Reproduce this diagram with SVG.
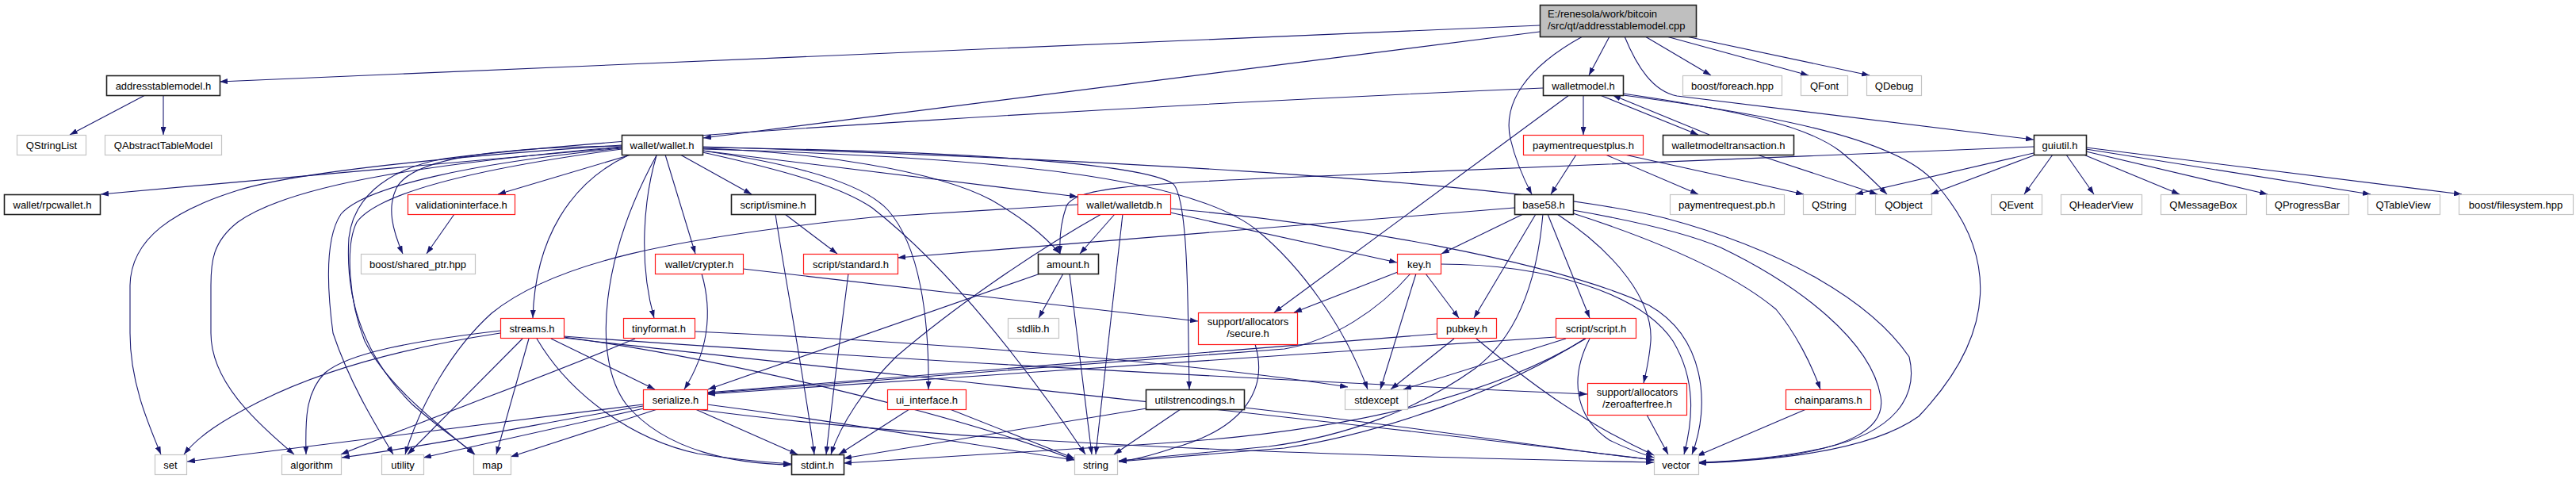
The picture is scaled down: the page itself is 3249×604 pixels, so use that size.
<svg xmlns="http://www.w3.org/2000/svg" width="3249" height="604" viewBox="0 0 3249 604">
<style>
.e{fill:none;stroke:#191970;stroke-width:1.1;marker-end:url(#a)}
rect{fill:#fff;stroke-width:1.2}
.k{stroke:#202020;stroke-width:1.6}
.r{stroke:#ff1a1a}
.g{stroke:#c4c4c4}
text{font-family:"Liberation Sans",Arial,sans-serif;font-size:13px;fill:#000;text-anchor:middle}
</style>
<defs>
<marker id="a" markerUnits="userSpaceOnUse" viewBox="0 0 10 7" refX="10" refY="3.5" markerWidth="10" markerHeight="7" orient="auto">
<path d="M0,0 L10,3.5 L0,7 z" fill="#191970"/>
</marker>
</defs>
<rect x="0" y="0" width="3249" height="604" style="fill:#fff;stroke:none"/>
<g id="edges">
<path class="e" d="M1942,32 L277,103"/>
<path class="e" d="M1942,40 L887,174"/>
<path class="e" d="M2030,46 L2004,95"/>
<path class="e" d="M1996,46 C1925,85 1895,130 1905,175 C1912,205 1922,226 1932,245"/>
<path class="e" d="M2075,46 L2158,95"/>
<path class="e" d="M2102,46 L2281,95"/>
<path class="e" d="M2127,46 L2358,95"/>
<path class="e" d="M2049,46 C2065,85 2085,115 2115,121 L2565,176"/>
<path class="e" d="M183,120 L88,170"/>
<path class="e" d="M206,120 L206,170"/>
<path class="e" d="M1997,120 L1997,170"/>
<path class="e" d="M2018,120 L2142,170"/>
<path class="e" d="M2156,170 L2034,120"/>
<path class="e" d="M1979,120 L1607,394"/>
<path class="e" d="M1946,111 C1500,130 800,170 560,200 C480,215 445,255 440,300 C435,380 460,450 520,510 C560,545 585,560 599,573"/>
<path class="e" d="M2047,120 C2200,140 2390,170 2440,230 C2520,320 2520,420 2420,525 C2350,575 2200,582 2142,584"/>
<path class="e" d="M2047,118 C2200,140 2280,160 2320,190 C2345,210 2365,230 2380,245"/>
<path class="e" d="M2216,195 L2368,245"/>
<path class="e" d="M1988,195 L1956,245"/>
<path class="e" d="M2025,195 L2142,245"/>
<path class="e" d="M2049,195 C2120,210 2200,228 2275,245"/>
<path class="e" d="M2565,185 L1640,223 C1420,232 1355,238 1345,260 C1338,280 1336,300 1337,320"/>
<path class="e" d="M2565,193 L2340,245"/>
<path class="e" d="M2565,196 L2435,245"/>
<path class="e" d="M2589,195 L2553,245"/>
<path class="e" d="M2606,195 L2641,245"/>
<path class="e" d="M2628,195 L2749,245"/>
<path class="e" d="M2631,191 L2860,245"/>
<path class="e" d="M2631,188 L2990,245"/>
<path class="e" d="M2631,186 L3105,245"/>
<path class="e" d="M784,186 L127,245"/>
<path class="e" d="M796,195 L628,245"/>
<path class="e" d="M784,184 C620,186 520,200 500,237 C488,262 495,290 508,320"/>
<path class="e" d="M792,196 C720,230 675,300 672,401"/>
<path class="e" d="M828,196 C812,250 805,330 825,401"/>
<path class="e" d="M839,195 L877,320"/>
<path class="e" d="M858,195 L948,245"/>
<path class="e" d="M828,196 C760,320 745,450 790,510 C840,570 930,585 998,586"/>
<path class="e" d="M886,190 C1010,208 1090,232 1120,265 C1160,310 1172,400 1171,491"/>
<path class="e" d="M886,192 C990,215 1060,235 1100,262 C1200,340 1300,470 1369,573"/>
<path class="e" d="M886,187 C1030,192 1180,215 1250,252 C1290,275 1315,295 1337,320"/>
<path class="e" d="M886,190 L1359,248"/>
<path class="e" d="M886,186 C1200,190 1440,205 1480,232 C1500,255 1498,400 1500,491"/>
<path class="e" d="M886,188 C1250,198 1500,222 1585,290 C1640,335 1695,410 1725,491"/>
<path class="e" d="M886,185 C1300,198 1900,225 2100,275 C2250,315 2360,380 2408,450 C2420,500 2390,545 2300,565 C2240,578 2180,582 2142,583"/>
<path class="e" d="M784,183 C600,195 380,215 300,240 C220,265 165,300 164,360 L164,420 C164,480 185,530 203,573"/>
<path class="e" d="M784,185 C560,205 370,230 300,280 C268,305 266,330 266,360 L266,420 C266,480 320,530 371,573"/>
<path class="e" d="M784,187 C600,205 460,235 430,270 C410,300 412,360 420,420 C440,480 470,530 496,573"/>
<path class="e" d="M784,188 C620,210 480,240 450,280 C435,310 440,380 460,430 C490,490 560,540 598,573"/>
<path class="e" d="M573,270 L538,320"/>
<path class="e" d="M990,270 L1056,320"/>
<path class="e" d="M978,270 C990,350 1015,480 1027,573"/>
<path class="e" d="M1070,345 C1063,400 1050,500 1042,573"/>
<path class="e" d="M885,345 C898,390 895,440 863,491"/>
<path class="e" d="M937,339 L1511,405"/>
<path class="e" d="M1341,345 L1310,401"/>
<path class="e" d="M1349,345 L1377,573"/>
<path class="e" d="M1312,345 L893,491"/>
<path class="e" d="M1406,270 L1362,320"/>
<path class="e" d="M1416,270 L1382,573"/>
<path class="e" d="M1389,270 C1300,320 1200,390 1130,450 C1090,490 1060,535 1048,573"/>
<path class="e" d="M1476,268 L1762,331"/>
<path class="e" d="M1476,263 C1700,283 1960,330 2080,385 C2150,425 2158,510 2134,573"/>
<path class="e" d="M1359,258 L1100,274 C850,300 700,330 620,395 C570,440 530,510 511,573"/>
<path class="e" d="M1798,345 L1840,401"/>
<path class="e" d="M1786,345 L1741,491"/>
<path class="e" d="M1763,343 L1632,394"/>
<path class="e" d="M1779,345 C1740,390 1680,430 1620,440 L892,496"/>
<path class="e" d="M1817,333 C1950,333 2070,370 2110,430 C2140,480 2135,530 2124,573"/>
<path class="e" d="M1834,427 L1754,491"/>
<path class="e" d="M1862,427 C1920,475 1990,530 2086,574"/>
<path class="e" d="M1812,421 L892,495"/>
<path class="e" d="M1975,427 L1770,491"/>
<path class="e" d="M2005,427 C1980,475 1985,525 2030,555 C2050,565 2070,572 2086,577"/>
<path class="e" d="M1962,425 L892,497"/>
<path class="e" d="M1999,427 C1900,490 1750,545 1620,565 L1411,582"/>
<path class="e" d="M2000,427 C1880,500 1700,545 1450,560 C1250,572 1120,580 1064,584"/>
<path class="e" d="M1583,434 C1600,490 1570,540 1480,565 C1450,575 1430,580 1411,582"/>
<path class="e" d="M2077,523 L2104,573"/>
<path class="e" d="M2278,516 L2140,575"/>
<path class="e" d="M1921,270 L1818,320"/>
<path class="e" d="M1937,270 L1859,401"/>
<path class="e" d="M1952,270 L2005,401"/>
<path class="e" d="M1964,270 C2040,320 2085,380 2082,430 C2080,455 2076,470 2073,483"/>
<path class="e" d="M1910,262 L1132,325"/>
<path class="e" d="M1946,270 C1940,340 1920,420 1860,465 C1790,515 1700,550 1600,563 L1411,581"/>
<path class="e" d="M1984,265 C2070,280 2130,295 2170,312 C2270,360 2360,430 2372,500 C2380,545 2320,565 2250,575 C2200,581 2165,583 2142,584"/>
<path class="e" d="M1984,269 C2080,300 2180,340 2240,390 C2265,420 2285,460 2296,491"/>
<path class="e" d="M695,427 L826,491"/>
<path class="e" d="M631,420 C500,440 400,470 330,505 C280,530 250,550 232,573"/>
<path class="e" d="M631,417 C520,430 440,445 410,470 C385,495 385,530 386,573"/>
<path class="e" d="M659,427 L514,573"/>
<path class="e" d="M667,427 L626,573"/>
<path class="e" d="M677,427 C720,500 800,555 880,572 C930,580 970,583 998,585"/>
<path class="e" d="M711,425 C900,450 1200,520 1355,580"/>
<path class="e" d="M711,424 C1000,445 1500,475 2002,497"/>
<path class="e" d="M711,426 C1000,460 1600,520 2086,580"/>
<path class="e" d="M801,427 C700,470 560,520 430,573"/>
<path class="e" d="M876,418 C1100,428 1450,450 1700,488"/>
<path class="e" d="M811,510 L236,582"/>
<path class="e" d="M811,512 C700,530 560,560 431,577"/>
<path class="e" d="M812,515 L534,577"/>
<path class="e" d="M829,516 L644,576"/>
<path class="e" d="M877,516 L1006,573"/>
<path class="e" d="M892,510 C1050,530 1250,565 1355,580"/>
<path class="e" d="M878,516 C1200,560 1700,575 2086,583"/>
<path class="e" d="M1147,516 L1058,573"/>
<path class="e" d="M1198,516 L1355,578"/>
<path class="e" d="M1446,515 L1064,578"/>
<path class="e" d="M1489,516 L1405,573"/>
<path class="e" d="M1569,514 C1800,540 1950,565 2086,580"/>
</g>
<g id="n-main"><rect x="1942.5" y="6.5" width="197" height="40" class="k" style="fill:#bfbfbf"/><text x="1952" y="22" style="text-anchor:start">E:/renesola/work/bitcoin</text><text x="1952" y="37" style="text-anchor:start">/src/qt/addresstablemodel.cpp</text></g>
<g id="n-addresstablemodel"><rect x="134.5" y="95.5" width="143" height="25" class="k"/><text x="206" y="112.5">addresstablemodel.h</text></g>
<g id="n-walletmodel"><rect x="1946.5" y="95.5" width="101" height="25" class="k"/><text x="1997" y="112.5">walletmodel.h</text></g>
<g id="n-foreach"><rect x="2122.5" y="95.5" width="125" height="25" class="g"/><text x="2185" y="112.5">boost/foreach.hpp</text></g>
<g id="n-qfont"><rect x="2271.5" y="95.5" width="59" height="25" class="g"/><text x="2301" y="112.5">QFont</text></g>
<g id="n-qdebug"><rect x="2354.5" y="95.5" width="69" height="25" class="g"/><text x="2389" y="112.5">QDebug</text></g>
<g id="n-qstringlist"><rect x="21.5" y="170.5" width="87" height="25" class="g"/><text x="65" y="187.5">QStringList</text></g>
<g id="n-qabstracttablemodel"><rect x="132.5" y="170.5" width="147" height="25" class="g"/><text x="206" y="187.5">QAbstractTableModel</text></g>
<g id="n-wallet"><rect x="784.5" y="170.5" width="102" height="25" class="k"/><text x="835" y="187.5">wallet/wallet.h</text></g>
<g id="n-paymentrequestplus"><rect x="1921.5" y="170.5" width="151" height="25" class="r"/><text x="1997" y="187.5">paymentrequestplus.h</text></g>
<g id="n-walletmodeltransaction"><rect x="2097.5" y="170.5" width="165" height="25" class="k"/><text x="2180" y="187.5">walletmodeltransaction.h</text></g>
<g id="n-guiutil"><rect x="2565.5" y="170.5" width="66" height="25" class="k"/><text x="2598" y="187.5">guiutil.h</text></g>
<g id="n-rpcwallet"><rect x="5.5" y="245.5" width="121" height="25" class="k"/><text x="66" y="262.5">wallet/rpcwallet.h</text></g>
<g id="n-validationinterface"><rect x="514.5" y="245.5" width="135" height="25" class="r"/><text x="582" y="262.5">validationinterface.h</text></g>
<g id="n-ismine"><rect x="922.5" y="245.5" width="106" height="25" class="k"/><text x="975" y="262.5">script/ismine.h</text></g>
<g id="n-walletdb"><rect x="1359.5" y="245.5" width="117" height="25" class="r"/><text x="1418" y="262.5">wallet/walletdb.h</text></g>
<g id="n-base58"><rect x="1910.5" y="245.5" width="74" height="25" class="k"/><text x="1947" y="262.5">base58.h</text></g>
<g id="n-paymentrequestpb"><rect x="2106.5" y="245.5" width="144" height="25" class="g"/><text x="2178" y="262.5">paymentrequest.pb.h</text></g>
<g id="n-qstring"><rect x="2274.5" y="245.5" width="66" height="25" class="g"/><text x="2307" y="262.5">QString</text></g>
<g id="n-qobject"><rect x="2365.5" y="245.5" width="71" height="25" class="g"/><text x="2401" y="262.5">QObject</text></g>
<g id="n-qevent"><rect x="2511.5" y="245.5" width="64" height="25" class="g"/><text x="2543" y="262.5">QEvent</text></g>
<g id="n-qheaderview"><rect x="2599.5" y="245.5" width="102" height="25" class="g"/><text x="2650" y="262.5">QHeaderView</text></g>
<g id="n-qmessagebox"><rect x="2725.5" y="245.5" width="108" height="25" class="g"/><text x="2779" y="262.5">QMessageBox</text></g>
<g id="n-qprogressbar"><rect x="2858.5" y="245.5" width="104" height="25" class="g"/><text x="2910" y="262.5">QProgressBar</text></g>
<g id="n-qtableview"><rect x="2986.5" y="245.5" width="91" height="25" class="g"/><text x="3031" y="262.5">QTableView</text></g>
<g id="n-filesystem"><rect x="3101.5" y="245.5" width="144" height="25" class="g"/><text x="3173" y="262.5">boost/filesystem.hpp</text></g>
<g id="n-sharedptr"><rect x="455.5" y="320.5" width="144" height="25" class="g"/><text x="527" y="337.5">boost/shared_ptr.hpp</text></g>
<g id="n-crypter"><rect x="826.5" y="320.5" width="111" height="25" class="r"/><text x="882" y="337.5">wallet/crypter.h</text></g>
<g id="n-standard"><rect x="1013.5" y="320.5" width="119" height="25" class="r"/><text x="1073" y="337.5">script/standard.h</text></g>
<g id="n-amount"><rect x="1309.5" y="320.5" width="76" height="25" class="k"/><text x="1347" y="337.5">amount.h</text></g>
<g id="n-key"><rect x="1762.5" y="320.5" width="55" height="25" class="r"/><text x="1790" y="337.5">key.h</text></g>
<g id="n-streams"><rect x="631.5" y="401.5" width="80" height="25" class="r"/><text x="671" y="418.5">streams.h</text></g>
<g id="n-tinyformat"><rect x="786.5" y="401.5" width="90" height="25" class="r"/><text x="831" y="418.5">tinyformat.h</text></g>
<g id="n-stdlib"><rect x="1271.5" y="401.5" width="64" height="25" class="g"/><text x="1303" y="418.5">stdlib.h</text></g>
<g id="n-secure"><rect x="1511.5" y="394.5" width="125" height="40" class="r"/><text x="1574" y="410">support/allocators</text><text x="1574" y="425">/secure.h</text></g>
<g id="n-pubkey"><rect x="1812.5" y="401.5" width="75" height="25" class="r"/><text x="1850" y="418.5">pubkey.h</text></g>
<g id="n-script"><rect x="1962.5" y="401.5" width="101" height="25" class="r"/><text x="2013" y="418.5">script/script.h</text></g>
<g id="n-serialize"><rect x="811.5" y="491.5" width="81" height="25" class="r"/><text x="852" y="508.5">serialize.h</text></g>
<g id="n-uiinterface"><rect x="1119.5" y="491.5" width="99" height="25" class="r"/><text x="1169" y="508.5">ui_interface.h</text></g>
<g id="n-utilstrencodings"><rect x="1445.5" y="491.5" width="124" height="25" class="k"/><text x="1507" y="508.5">utilstrencodings.h</text></g>
<g id="n-stdexcept"><rect x="1696.5" y="491.5" width="79" height="25" class="g"/><text x="1736" y="508.5">stdexcept</text></g>
<g id="n-zeroafterfree"><rect x="2002.5" y="483.5" width="125" height="40" class="r"/><text x="2065" y="499">support/allocators</text><text x="2065" y="514">/zeroafterfree.h</text></g>
<g id="n-chainparams"><rect x="2252.5" y="491.5" width="107" height="25" class="r"/><text x="2306" y="508.5">chainparams.h</text></g>
<g id="n-set"><rect x="195.5" y="573.5" width="40" height="25" class="g"/><text x="215" y="590.5">set</text></g>
<g id="n-algorithm"><rect x="355.5" y="573.5" width="75" height="25" class="g"/><text x="393" y="590.5">algorithm</text></g>
<g id="n-utility"><rect x="481.5" y="573.5" width="53" height="25" class="g"/><text x="508" y="590.5">utility</text></g>
<g id="n-map"><rect x="597.5" y="573.5" width="47" height="25" class="g"/><text x="621" y="590.5">map</text></g>
<g id="n-stdint"><rect x="998.5" y="573.5" width="66" height="25" class="k"/><text x="1031" y="590.5">stdint.h</text></g>
<g id="n-string"><rect x="1355.5" y="573.5" width="54" height="25" class="g"/><text x="1382" y="590.5">string</text></g>
<g id="n-vector"><rect x="2086.5" y="573.5" width="56" height="25" class="g"/><text x="2114" y="590.5">vector</text></g>
</svg>
